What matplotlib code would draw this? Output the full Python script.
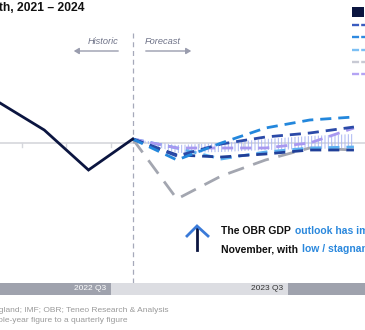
import matplotlib
matplotlib.use("Agg")
import matplotlib.pyplot as plt
from matplotlib.lines import Line2D
from matplotlib.patches import Rectangle

plt.rcParams['font.family'] = ['Liberation Sans', 'DejaVu Sans']
plt.rcParams['hatch.linewidth'] = 0.7

W, H = 365, 330

# ---------------- data (quarter index, growth % q/q) ----------------
hist_x = [-3, -2, -1, 0]
hist_y = [0.40, 0.13, -0.27, 0.04]

fc_x = [0, 1, 2, 3, 4, 5]
boe_y      = [0.04, -0.56, -0.33, -0.17, -0.05, -0.07]   # grey
obr_y      = [0.04, -0.17, 0.00, 0.15, 0.23, 0.26]       # mid blue
imf_y      = [0.04, -0.13, -0.01, 0.06, 0.10, 0.16]      # dark blue (upper)
cons_y     = [0.04, -0.12, -0.14, -0.11, -0.07, -0.07]   # dark blue (lower)
oecd_y     = [0.04, -0.05, -0.16, -0.09, -0.05, -0.04]   # light blue
teneo_y    = [0.04, -0.05, -0.05, -0.05, 0.00, 0.15]     # lavender
range_lo   = [0.04, -0.10, -0.09, -0.07, -0.06, -0.05]
range_hi   = [0.04, -0.02, 0.00, 0.04, 0.07, 0.09]

band_edges  = [-3.5, -0.5, 3.5, 7.5]
band_labels = ['2022 Q3', '2023 Q3', '2024 Q3']

legend_labels = ['Historic', 'IMF', 'OBR', 'OECD', 'BoE', 'Teneo']

# ---------------- figure ----------------
fig = plt.figure(figsize=(W / 100, H / 100), dpi=100)

def fx(px):
    return px / W

def fy(py):
    return 1 - py / H

ax = fig.add_axes([0, fy(283), 1, fy(20) - fy(283)])
ax.set_xlim(-3, 5.25)
ax.set_ylim(-1.40, 1.23)
ax.axis('off')

# zero line with small ticks
ax.axhline(0, color='#d6d7dc', lw=1.2, zorder=1)
for t in [-2.5, -1.5, -0.5, 0.5, 1.5, 2.5, 3.5, 4.5]:
    ax.plot([t, t], [0, -0.035], color='#d6d7dc', lw=1.0, zorder=1)

# forecast divider
ax.axvline(0, ymin=0, ymax=(283 - 33) / 263, color='#a6a9ba', lw=0.9,
           ls=(0, (4, 3)), zorder=1)

# hatched range
ax.fill_between(fc_x, range_lo, range_hi, facecolor='none',
                edgecolor='#aab6f2', hatch='|||||', lw=0, zorder=2)

# forecast lines
ax.plot(fc_x, boe_y, color='#a3a6b0', lw=2.0, ls=(0, (6, 3.5)), zorder=3)
ax.plot(fc_x, oecd_y, color='#5cb0f0', lw=2.0, ls=(0, (4, 2.5)), zorder=4)
ax.plot(fc_x, teneo_y, color='#a898f0', lw=2.0, ls=(0, (4, 2.5)), zorder=4)
ax.plot(fc_x, cons_y, color='#203f98', lw=2.0, ls=(0, (4, 2.5)), zorder=5)
ax.plot(fc_x, imf_y, color='#2b4aa8', lw=2.0, ls=(0, (4, 2.5)), zorder=5)
ax.plot(fc_x, obr_y, color='#2387dc', lw=2.0, ls=(0, (4, 2.5)), zorder=5)

# historic line
ax.plot(hist_x, hist_y, color='#0b1540', lw=2.0, zorder=6,
        solid_joinstyle='miter')

# ---------------- title ----------------
fig.text(fx(85), fy(8), 'UK quarterly GDP growth, 2021 – 2024', ha='right',
         va='center', fontsize=8.7, fontweight='bold', color='#111111')

# Historic / Forecast markers
fig.text(fx(118), fy(42), 'Historic', ha='right', va='center', fontsize=6.7,
         style='italic', color='#6f7388')
fig.text(fx(145), fy(42), 'Forecast', ha='left', va='center', fontsize=6.7,
         style='italic', color='#6f7388')
fig.patches.append(matplotlib.patches.FancyArrowPatch(
    (fx(121), fy(51)), (fx(71), fy(51)), transform=fig.transFigure,
    arrowstyle='-|>,head_length=3,head_width=1.8', color='#9a9dae', lw=1.0,
    mutation_scale=1))
fig.patches.append(matplotlib.patches.FancyArrowPatch(
    (fx(143), fy(51)), (fx(194), fy(51)), transform=fig.transFigure,
    arrowstyle='-|>,head_length=3,head_width=1.8', color='#9a9dae', lw=1.0,
    mutation_scale=1))

# ---------------- legend (cropped) ----------------
fig.patches.append(Rectangle((fx(352), fy(17)), fx(12), fy(7) - fy(17),
                             transform=fig.transFigure, facecolor='#0b1540',
                             edgecolor='none'))
leg_colors = ['#3a5cc0', '#2f8ae0', '#7cc0f4', '#c8cad4', '#b4a4f4']
leg_rows = [25, 37, 50, 62, 74]
for c, r in zip(leg_colors, leg_rows):
    fig.lines.append(Line2D([fx(352), fx(365)], [fy(r), fy(r)],
                            transform=fig.transFigure, color=c, lw=1.7,
                            ls=(0, (3.0, 0.9))))
for lab, r in zip(legend_labels, [12] + leg_rows):
    fig.text(fx(372), fy(r), lab, ha='left', va='center', fontsize=6.5,
             color='#333333')

# ---------------- up arrow + comment ----------------
fig.lines.append(Line2D([fx(197), fx(197)], [fy(250), fy(227)],
                        transform=fig.transFigure, color='#0b1540', lw=2.0))
fig.lines.append(Line2D([fx(187), fx(197), fx(208)], [fy(236), fy(226), fy(236)],
                        transform=fig.transFigure, color='#3a7ad8', lw=2.0,
                        solid_joinstyle='miter'))

renderer = fig.canvas.get_renderer()

def rich_line(x_px, y_px, parts, size=7.5):
    x = fx(x_px)
    for txt, col in parts:
        t = fig.text(x, fy(y_px), txt, ha='left', va='center', fontsize=size,
                     fontweight='bold', color=col)
        bb = t.get_window_extent(renderer=renderer)
        x += bb.width / (W) + 1.5 / W

rich_line(221, 231, [('The OBR GDP ', '#111111'),
                     ('outlook has improved since', '#2a88dd')])
rich_line(221, 249, [('November, with ', '#111111'),
                     ('low / stagnant growth expected', '#2a88dd')])

# ---------------- bottom band ----------------
bax = fig.add_axes([0, fy(295), 1, fy(283) - fy(295)])
bax.set_xlim(-3, 5.25)
bax.set_ylim(0, 1)
bax.axis('off')
band_cols = ['#9fa2ad', '#dcdde2', '#9fa2ad']
txt_cols = ['#ffffff', '#333333', '#ffffff']
for i in range(3):
    x0, x1 = band_edges[i], band_edges[i + 1]
    bax.add_patch(Rectangle((x0, 0), x1 - x0, 1, facecolor=band_cols[i],
                            edgecolor='none'))
    bax.text(x1 - 0.1, 0.5, band_labels[i], ha='right', va='center',
             fontsize=6.0, color=txt_cols[i])

# ---------------- footnotes ----------------
fig.text(fx(168), fy(311), 'Source: Bank of England; IMF; OBR; Teneo Research & Analysis',
         ha='right', va='center', fontsize=6.0, color='#9a9a9a')
fig.text(fx(127), fy(320), 'Note: Teneo converted the whole-year figure to a quarterly figure',
         ha='right', va='center', fontsize=6.0, color='#9a9a9a')

fig.savefig('out.png', dpi=100)
